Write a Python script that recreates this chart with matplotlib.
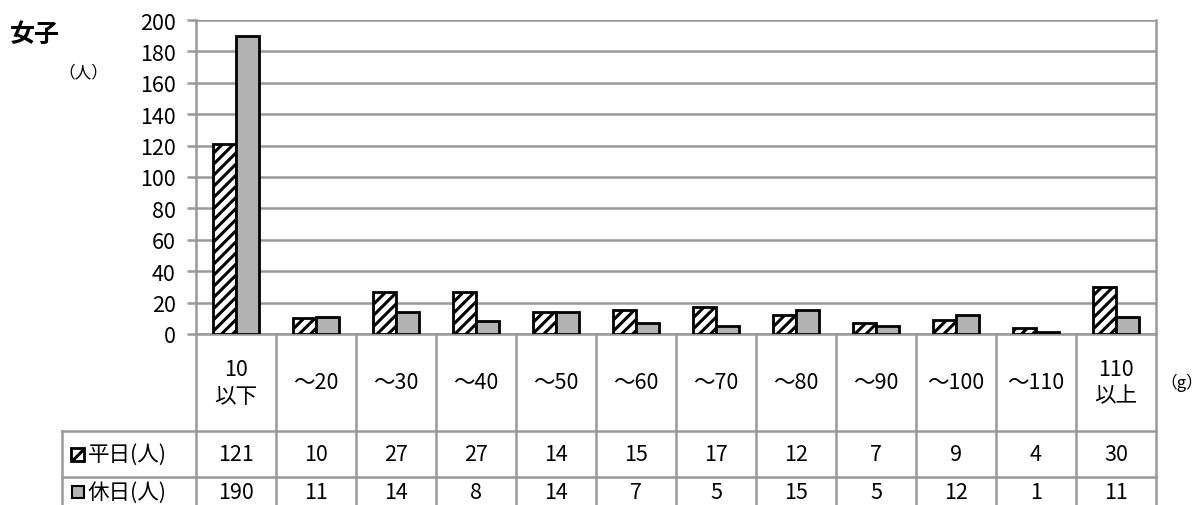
import matplotlib
matplotlib.use("Agg")
import matplotlib.pyplot as plt
from matplotlib.patches import Rectangle
from matplotlib.lines import Line2D
import matplotlib.transforms as mtransforms

plt.rcParams['font.family'] = ['Noto Sans CJK JP', 'DejaVu Sans']
plt.rcParams['hatch.linewidth'] = 2.2

categories = ["10\n以下", "～20", "～30", "～40", "～50", "～60", "～70", "～80", "～90", "～100", "～110", "110\n以上"]
weekday = [121, 10, 27, 27, 14, 15, 17, 12, 7, 9, 4, 30]
holiday = [190, 11, 14, 8, 14, 7, 5, 15, 5, 12, 1, 11]
series_labels = ["平日(人)", "休日(人)"]
yticks = [0, 20, 40, 60, 80, 100, 120, 140, 160, 180, 200]

W, H = 1204, 506
fig = plt.figure(figsize=(W / 100, H / 100), dpi=100)
x0, x1 = 196, 1156
ytop, ybot = 21, 335
ax = fig.add_axes([x0 / W, 1 - ybot / H, (x1 - x0) / W, (ybot - ytop) / H])

n = len(categories)
xs = [i + 0.5 for i in range(n)]
bw = 0.29
grid_c = "#999999"
gray = "#b2b2b2"
fs = 15.5

ax.bar([x - bw / 2 for x in xs], weekday, width=bw, color="white", edgecolor="black",
       hatch="///", linewidth=2, zorder=3)
ax.bar([x + bw / 2 for x in xs], holiday, width=bw, color=gray, edgecolor="black",
       linewidth=2, zorder=3)

ax.set_xlim(0, n)
ax.set_ylim(0, 200)
ax.set_yticks(yticks)
ax.set_yticklabels([str(t) for t in yticks], fontsize=fs)
ax.yaxis.grid(True, color=grid_c, linewidth=1.8, zorder=0)
ax.set_xticks([])
for s in ["top", "bottom"]:
    ax.spines[s].set_visible(False)
for s in ["left", "right"]:
    ax.spines[s].set_color(grid_c)
    ax.spines[s].set_linewidth(1.8)
ax.tick_params(axis="y", length=6.5, width=1.8, color=grid_c, pad=8)

trans = mtransforms.blended_transform_factory(ax.transData, fig.transFigure)
def fy(py):
    return 1 - py / H

row_cat_bot = 432
row1_bot = 478
lw = 1.8

def fline(xa, xb, ya, yb):
    fig.add_artist(Line2D([xa / W, xb / W], [fy(ya), fy(yb)], color=grid_c, lw=lw,
                          transform=fig.transFigure))

ax.plot([0, n], [fy(ybot)] * 2, transform=trans, color=grid_c, lw=lw, clip_on=False)
fline(62, x1, row_cat_bot, row_cat_bot)
fline(62, x1, row1_bot, row1_bot)
fline(62, 62, row_cat_bot, H)
for i in range(n + 1):
    ax.plot([i, i], [fy(ybot), 0], transform=trans, color=grid_c, lw=lw, clip_on=False)

for i, c in enumerate(categories):
    ax.text(xs[i], fy((ybot + row_cat_bot) / 2), c, transform=trans, ha="center", va="center",
            fontsize=fs, linespacing=1.25)
for i in range(n):
    ax.text(xs[i], fy((row_cat_bot + row1_bot) / 2), str(weekday[i]), transform=trans,
            ha="center", va="center", fontsize=fs)
    ax.text(xs[i], fy(row1_bot + 15), str(holiday[i]), transform=trans,
            ha="center", va="center", fontsize=fs)

fig.add_artist(Rectangle((71 / W, fy(462)), 13 / W, 13 / H, transform=fig.transFigure,
                         facecolor="white", edgecolor="black", hatch="//", lw=2))
fig.add_artist(Rectangle((72 / W, fy(499)), 12 / W, 12 / H, transform=fig.transFigure,
                         facecolor=gray, edgecolor="black", lw=1.5))
fig.text(88 / W, fy((row_cat_bot + row1_bot) / 2), series_labels[0], ha="left", va="center", fontsize=fs)
fig.text(88 / W, fy(row1_bot + 15), series_labels[1], ha="left", va="center", fontsize=fs)

fig.text(10 / W, fy(35), "女子", ha="left", va="center", fontsize=18, fontweight="bold")
fig.text(58 / W, fy(73), "（人）", ha="left", va="center", fontsize=12)
fig.text(1160 / W, fy(383), "（g）", ha="left", va="center", fontsize=12,
         family=["Noto Sans CJK JP", "DejaVu Serif"])

fig.savefig("out.png", dpi=100)
